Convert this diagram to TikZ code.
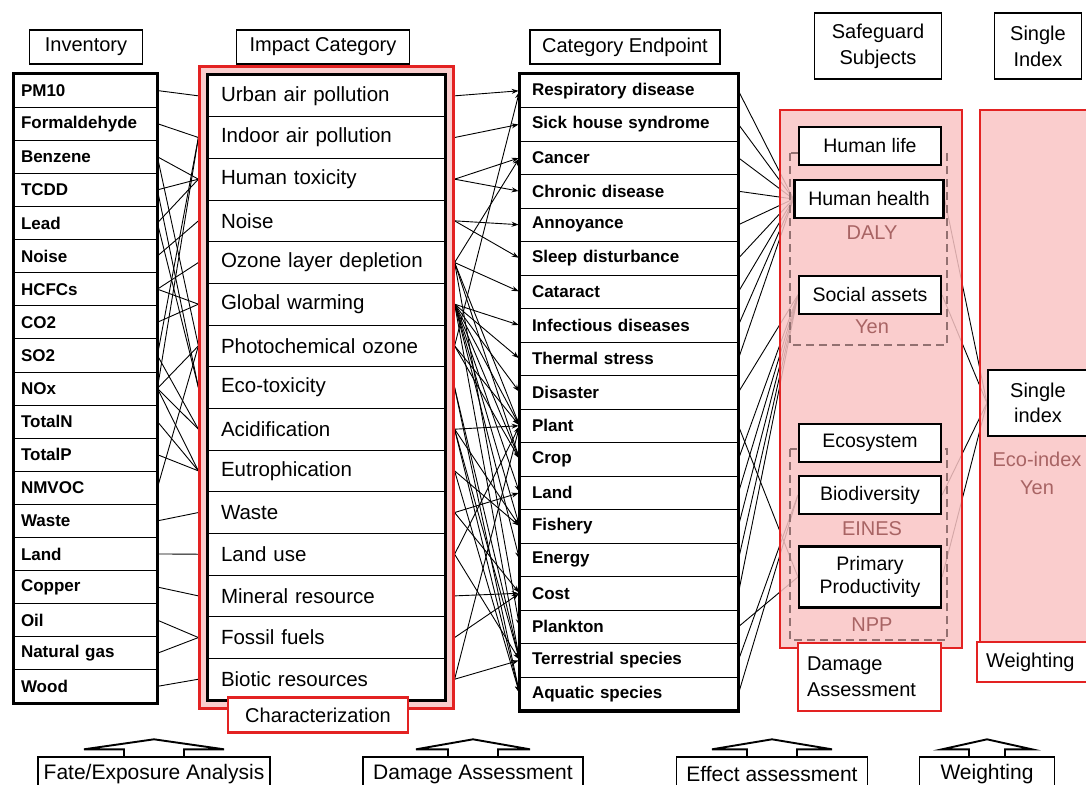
\documentclass[tikz,border=0pt]{standalone}
\usepackage{fontspec}
\setmainfont{Liberation Sans}
\usetikzlibrary{arrows.meta,fit}
\definecolor{framered}{HTML}{E32222}
\definecolor{framepink}{HTML}{F9C4C4}
\definecolor{unitred}{HTML}{A86464}
\definecolor{groupgray}{HTML}{927070}
\pgfdeclarelayer{back}
\pgfdeclarelayer{veil}
\pgfsetlayers{back,veil,main}
\newcommand\tabarrow[3]{\draw[line width=1.9pt,line join=miter] ([xshift=-#3pt]#1.north) -- ([xshift=-#3pt,yshift=7pt]#1.north) -- ([xshift=-#2pt,yshift=7pt]#1.north) -- ([yshift=17pt]#1.north) -- ([xshift=#2pt,yshift=7pt]#1.north) -- ([xshift=#3pt,yshift=7pt]#1.north) -- ([xshift=#3pt]#1.north);}

\begin{document}
\begin{tikzpicture}[x=1pt,y=-1pt,
	headbox/.style={draw,line width=1.3pt,fill=white,inner sep=0pt,minimum height=34pt,align=center,font=\fontsize{20}{26}\selectfont},
	invrow/.style={draw,line width=0.8pt,fill=white,minimum width=143pt,minimum height=33.1pt,text width=129pt,inner xsep=7pt,inner ysep=0pt,align=left,font=\fontsize{17}{20}\selectfont\bfseries},
	improw/.style={invrow,minimum width=237pt,minimum height=41.67pt,text width=211pt,inner xsep=13pt,font=\fontsize{20.5}{24}\selectfont},
	endrow/.style={invrow,minimum width=218pt,minimum height=33.5pt,text width=194pt,inner xsep=12pt},
	heavy/.style={line width=3.5pt},
	frame/.style={draw=framered,line width=2.4pt,fill=framepink,fill opacity=0.85,inner sep=0pt},
	redbox/.style={draw=framered,line width=2.4pt,fill=white,inner sep=0pt,font=\fontsize{20}{26}\selectfont},
	sgbox/.style={draw,line width=2.2pt,fill=white,inner sep=0pt,minimum width=142pt,minimum height=38pt,align=center,font=\fontsize{19.5}{23}\selectfont},
	unit/.style={text=unitred,align=center,font=\fontsize{20}{28}\selectfont},
	groupbox/.style={draw=groupgray,line width=1.6pt,dash pattern=on 8pt off 5pt},
	link/.style={line width=0.9pt},
	stagebox/.style={draw,line width=1.4pt,fill=white,inner sep=0pt,minimum height=34pt,font=\fontsize{21}{25}\selectfont}]
	\useasboundingbox (0,0) rectangle (1086,784);

	\node[headbox,minimum width=113pt] (hinv) at (86,47) {Inventory};
	\node[headbox,minimum width=173pt] (himp) at (323,47) {Impact Category};
	\node[headbox,minimum width=190pt] (hend) at (625,47) {Category Endpoint};
	\node[headbox,minimum width=127pt,minimum height=66pt] (hsg) at (878,46) {Safeguard\\Subjects};
	\node[headbox,minimum width=87pt,minimum height=66pt] (hsi) at (1038,46) {Single\\Index};

	\foreach \name [count=\i] in {PM10,Formaldehyde,Benzene,TCDD,Lead,Noise,HCFCs,CO2,SO2,NOx,TotalN,TotalP,NMVOC,Waste,Land,Copper,Oil,Natural gas,Wood}
		\node[invrow] (inv\i) at (85.5,{74+33.1*(\i-0.5)}) {\name};
	\draw[heavy] (inv1.north west) rectangle (inv19.south east);

	\foreach \name [count=\i] in {Urban air pollution,Indoor air pollution,Human toxicity,Noise,Ozone layer depletion,Global warming,Photochemical ozone,Eco-toxicity,Acidification,Eutrophication,Waste,Land use,Mineral resource,Fossil fuels,Biotic resources}
		\node[improw] (imp\i) at (326.5,{75+41.67*(\i-0.5)}) {\name};
	\draw[heavy] (imp1.north west) rectangle (imp15.south east);

	\foreach \name [count=\i] in {Respiratory disease,Sick house syndrome,Cancer,Chronic disease,Annoyance,Sleep disturbance,Cataract,Infectious diseases,Thermal stress,Disaster,Plant,Crop,Land,Fishery,Energy,Cost,Plankton,Terrestrial species,Aquatic species}
		\node[endrow] (end\i) at (629,{74+33.5*(\i-0.5)}) {\name};
	\draw[heavy] (end1.north west) rectangle (end19.south east);

	\begin{pgfonlayer}{veil}
		\node[frame,fit=(imp1)(imp15),inner sep=8pt] (impframe) {};
		\node[frame,minimum width=182pt,minimum height=538pt] (sgframe) at (871,379) {};
		\node[frame,minimum width=112pt,minimum height=532pt] (siframe) at (1036,376) {};
		\draw[groupbox] (790,153) rectangle (947,345);
		\draw[groupbox] (790,449) rectangle (947,640);
	\end{pgfonlayer}
	\node[redbox,minimum width=180pt,minimum height=35pt] (charz) at (318,715) {Characterization};

	\node[sgbox] (hl) at (870,146) {Human life};
	\node[sgbox,minimum width=149pt] (hh) at (869,199) {Human health};
	\node[unit] (daly) at (872,233) {DALY};
	\node[sgbox] (sa) at (870,295) {Social assets};
	\node[unit] (yen) at (872,327) {Yen};
	\node[sgbox] (es) at (870,443) {Ecosystem};
	\node[sgbox] (bd) at (870,495) {Biodiversity};
	\node[unit] (eines) at (872,529) {EINES};
	\node[sgbox,minimum height=61pt] (pp) at (870,577) {Primary\\Productivity};
	\node[unit] (npp) at (872,625) {NPP};
	\node[redbox,text width=125pt,inner xsep=9pt,minimum height=68pt,align=left] (dmgnote) at (869.5,677) {Damage\\Assessment};

	\node[sgbox,minimum width=100pt,minimum height=66pt,font=\fontsize{20}{25}\selectfont] (si) at (1038,403) {Single\\index};
	\node[unit] (ecoidx) at (1037,473) {Eco-index\\Yen};
	\node[redbox,text width=100pt,inner xsep=9pt,minimum height=40pt,align=left] (wnote) at (1036,662) {Weighting};

	\begin{pgfonlayer}{back}
		\foreach \a/\b in {1/1,2/2,3/3,3/7,4/3,4/8,5/3,5/8,6/4,7/5,7/6,8/6,9/2,9/9,10/2,10/7,10/9,10/10,11/10,12/10,13/7,14/11,15/12,16/13,17/14,18/14,19/15}
			\draw[link] (inv\a.east) -- (imp\b.west -| impframe.west);
		\foreach \a/\b in {1/1,2/2,3/3,3/4,4/5,4/6,5/3,5/7,5/11,5/12,5/17,6/8,6/9,6/10,6/11,6/12,6/13,6/14,6/15,6/18,7/1,7/11,7/12,8/18,8/19,9/11,9/14,9/18,9/19,10/14,10/19,11/13,11/16,12/11,12/18,13/16,14/16,15/11,15/18}
			\draw[link,-{Stealth[length=7pt,width=5pt]},shorten >=1pt] (imp\a.east -| impframe.east) -- (end\b.west);
		\foreach \a/\b in {1/hh,2/hh,3/hh,4/hh,5/hh,6/hh,7/hh,8/hh,9/hh,10/sa,11/pp,12/sa,13/sa,14/sa,15/sa,16/sa,17/pp,18/bd,19/bd}
			\draw[link] (end\a.east) -- (\b.west);
		\foreach \b in {hh,sa,bd,pp}
			\draw[link] (\b.east) -- (si.west);
	\end{pgfonlayer}

	\node[stagebox,minimum width=232pt] (fate) at (154,774) {Fate/Exposure Analysis};
	\node[stagebox,minimum width=220pt] (dmg) at (473,774) {Damage Assessment};
	\node[stagebox,minimum width=191pt] (eff) at (772,774) {Effect assessment};
	\node[stagebox,minimum width=135pt] (wgt) at (987,774) {Weighting};
	\tabarrow{fate}{70}{30}
	\tabarrow{dmg}{57}{25}
	\tabarrow{eff}{60}{25}
	\tabarrow{wgt}{45}{18}
\end{tikzpicture}
\end{document}
